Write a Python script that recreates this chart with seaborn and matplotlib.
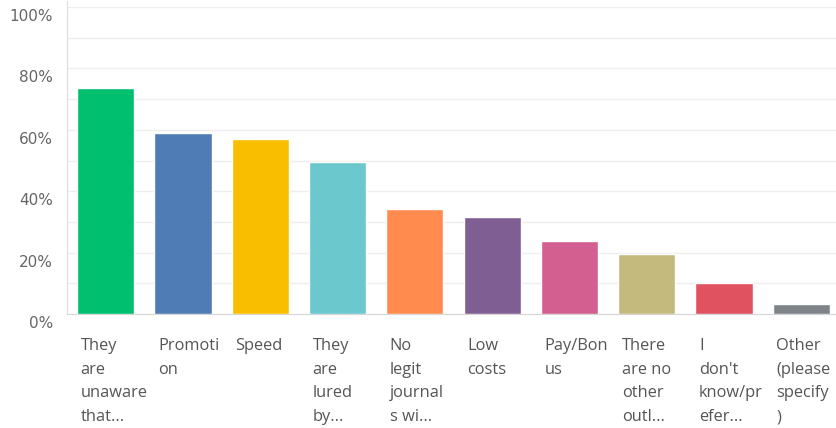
import matplotlib
matplotlib.use("Agg")
import matplotlib.pyplot as plt
import matplotlib.transforms as mtransforms
import seaborn as sns
import pandas as pd

categories = ["They\nare\nunaware\nthat...", "Promoti\non", "Speed", "They\nare\nlured\nby...",
              "No\nlegit\njournal\ns wi...", "Low\ncosts", "Pay/Bon\nus", "There\nare no\nother\noutl...",
              "I\ndon't\nknow/pr\nefer...", "Other\n(please\nspecify\n)"]
values = [73.5, 59.1, 57.1, 49.5, 34.1, 31.6, 23.7, 19.6, 10.1, 3.2]
colors = ["#00BF6F", "#507CB6", "#F9BE00", "#6BC8CD", "#FF8B4F", "#7F5F93",
          "#D25F90", "#C4BA7E", "#E05260", "#7D8388"]
yticks = [0, 20, 40, 60, 80, 100]
ytick_labels = ["0%", "20%", "40%", "60%", "80%", "100%"]

df = pd.DataFrame({"cat": categories, "val": values})

sns.set_style("white")
plt.rcParams["font.family"] = ["Open Sans", "DejaVu Sans"]

fig = plt.figure(figsize=(8.36, 4.28), dpi=100)
W, H = 836, 428
ax = fig.add_axes([67 / W, 1 - 314 / H, (840 - 67) / W, (314 - 7) / H])

sns.barplot(data=df, x="cat", y="val", hue="cat", palette=colors, legend=False,
            width=0.74, ax=ax, saturation=1, zorder=3)

ax.set_ylim(0, 100)
ax.set_xlim(-0.5, 9.5)
ax.set_xlabel("")
ax.set_ylabel("")
for y in range(10, 101, 10):
    ax.axhline(y, color="#EEEEEE", lw=1, zorder=0)

ax.set_yticks(yticks)
ax.set_yticklabels(ytick_labels, fontsize=11, color="#666666")
for lab in ax.get_yticklabels():
    lab.set_fontfamily("DejaVu Sans")
ax.tick_params(axis="y", length=0, pad=10)
off_y = mtransforms.ScaledTranslation(0, -8 / 100, fig.dpi_scale_trans)
for lab in ax.get_yticklabels():
    lab.set_transform(lab.get_transform() + off_y)

ax.set_xticks(range(len(categories)))
ax.set_xticklabels(categories, fontsize=11.8, color="#555555", ha="left", va="top",
                   linespacing=1.66)
ax.tick_params(axis="x", length=0, pad=17)
off_x = mtransforms.ScaledTranslation(-25 / 100, 0, fig.dpi_scale_trans)
for lab in ax.get_xticklabels():
    lab.set_transform(lab.get_transform() + off_x)

for s in ["top", "right"]:
    ax.spines[s].set_visible(False)
ax.spines["left"].set_color("#DDDDDD")
ax.spines["bottom"].set_color("#D5D5D5")
ax.spines["left"].set_bounds(0, 102)

fig.savefig("out.png", dpi=100)
